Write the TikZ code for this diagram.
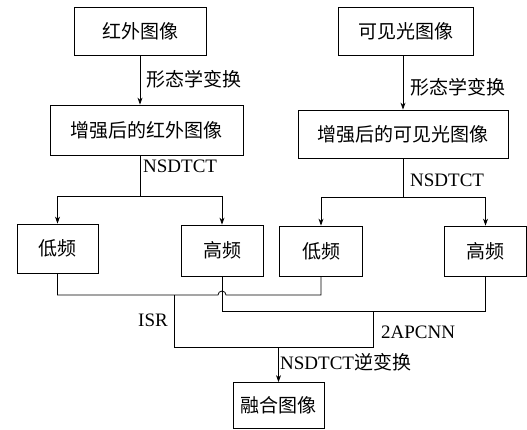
\documentclass[tikz,border=0pt]{standalone}
\usepackage{fontspec}
\setmainfont{Liberation Serif}
\newfontfamily\cjk{Noto Sans CJK SC}
\usetikzlibrary{arrows.meta,calc}
\begin{document}
\begin{tikzpicture}[x=1pt,y=-1pt,
  box/.style={draw,line width=0.8pt,inner sep=0pt,font=\fontsize{19}{22}\selectfont\cjk},
  lbl/.style={inner sep=0pt,anchor=west,font=\fontsize{19}{22}\selectfont},
  ln/.style={line width=0.8pt},
  arr/.style={line width=0.8pt,-{Stealth[length=7pt,width=5pt]}}]
\useasboundingbox (0,0) rectangle (527,429);
% boxes
\node[box,minimum width=132pt,minimum height=48pt] (b1) at (140,31) {红外图像};
\node[box,minimum width=135pt,minimum height=48pt] (b2) at (405.5,31) {可见光图像};
\node[box,minimum width=193pt,minimum height=50pt] (b3) at (146.5,130) {增强后的红外图像};
\node[box,minimum width=210pt,minimum height=48pt] (b4) at (403,134) {增强后的可见光图像};
\node[box,minimum width=81pt,minimum height=49pt] (l1) at (57.5,248.5) {低频};
\node[box,minimum width=82pt,minimum height=51pt] (h1) at (222,250.5) {高频};
\node[box,minimum width=83pt,minimum height=50pt] (l2) at (321,251) {低频};
\node[box,minimum width=82pt,minimum height=50pt] (h2) at (485.5,251) {高频};
\node[box,minimum width=91pt,minimum height=46pt] (f) at (278.5,405.5) {融合图像};
% top arrows
\draw[arr] (b1.south) -- (b1.south |- b3.north);
\draw[arr] (403,55) coordinate (s2) -- (s2 |- b4.north);
\node[lbl,font=\fontsize{19}{22}\selectfont\cjk] (t1) at (146,79) {形态学变换};
\node[lbl,font=\fontsize{19}{22}\selectfont\cjk] (t2) at (410,87) {形态学变换};
% NSDTCT splits
\coordinate (j1) at (140,196);
\draw[ln] (b1.south |- b3.south) -- (j1);
\draw[arr] (l1.north |- j1) -- (l1.north);
\draw[arr] (h1.north |- j1) -- (h1.north);
\draw[ln] (l1.north |- j1) -- (h1.north |- j1);
\node[lbl] (n1) at (143,166) {NSDTCT};
\coordinate (j2) at (403,197);
\draw[ln] (j2 |- b4.south) -- (j2);
\draw[arr] (l2.north |- j2) -- (l2.north);
\draw[arr] (h2.north |- j2) -- (h2.north);
\draw[ln] (l2.north |- j2) -- (h2.north |- j2);
\node[lbl] (n2) at (410,180) {NSDTCT};
% low-frequency merge (with jump over)
\coordinate (lo) at (0,295);
\draw[ln] (l1.south) -- (l1.south |- lo) -- ($(h1.south |- lo)+(-4,0)$) arc (180:360:4) -- (l2.south |- lo) -- (l2.south);
% high-frequency merge
\coordinate (hi) at (0,311);
\draw[ln] (h1.south) -- (h1.south |- hi) -- (h2.south |- hi) -- (h2.south);
% ISR / 2APCNN
\coordinate (c1) at (174,295);
\coordinate (c2) at (373,311);
\coordinate (bt) at (0,347);
\draw[ln] (c1) -- (c1 |- bt) -- (c2 |- bt) -- (c2);
\node[lbl] (isr) at (138,320) {ISR};
\node[lbl] (apc) at (381,332) {2APCNN};
\draw[arr] (f.north |- bt) -- (f.north);
\node[lbl] (inv) at (280,362) {NSDTCT{\cjk 逆变换}};
\end{tikzpicture}
\end{document}
